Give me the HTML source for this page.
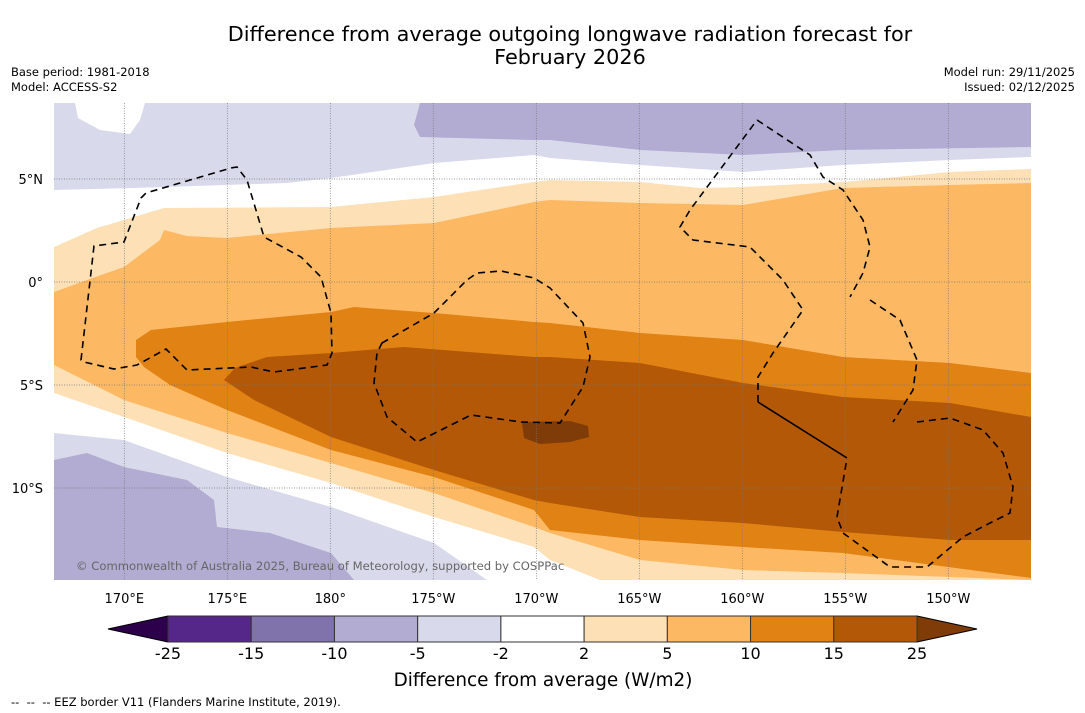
<!DOCTYPE html>
<html><head><meta charset="utf-8"><style>
body{margin:0;background:#fff;width:1085px;height:713px;overflow:hidden;font-family:"DejaVu Sans","Liberation Sans",sans-serif}
svg{position:absolute;left:0;top:0}
</style></head><body>
<svg id="s" width="1085" height="713" viewBox="0 0 1085 713">
<text x="570" y="41" font-size="20.8" text-anchor="middle">Difference from average outgoing longwave radiation forecast for</text>
<text x="570" y="64" font-size="20.8" text-anchor="middle">February 2026</text>
<text x="11" y="76" font-size="11.5">Base period: 1981-2018</text>
<text x="11" y="91" font-size="11.5">Model: ACCESS-S2</text>
<text x="1075" y="76" font-size="11.5" text-anchor="end">Model run: 29/11/2025</text>
<text x="1075" y="91" font-size="11.5" text-anchor="end">Issued: 02/12/2025</text>
<defs><clipPath id="mc"><rect x="54" y="103" width="977" height="477"/></clipPath></defs>
<g clip-path="url(#mc)">
<rect x="54" y="103" width="977" height="477" fill="#ffffff"/>
<path fill="#d8daeb" d="M54,103 L1031,103 L1031,157 L950,160 L843,165 L743,172 L640,165 L550,158 L534,155 L434,163 L331,178 L287,183 L134,188 L54,190 Z"/>
<path fill="#ffffff" d="M75,103 L145,103 L140,120 L130,134 L100,130 L78,118 Z"/>
<path fill="#b2abd2" d="M420,103 L1031,103 L1031,147 L843,150 L743,155 L640,150 L550,140 L534,140 L420,137 L414,125 Z"/>
<path fill="#d8daeb" d="M54,433 L124,440 L227,477 L331,507 L434,543 L487,580 L54,580 Z"/>
<path fill="#b2abd2" d="M54,460 L87,453 L124,467 L187,480 L214,500 L217,527 L270,533 L331,553 L354,580 L54,580 Z"/>
<path fill="#fee0b6" d="M54,247 L97,228 L164,208 L331,207 L434,197 L534,182 L550,180 L640,182 L700,188 L743,187 L843,182 L950,172 L1031,169 L1031,580 L600,580 L550,560 L534,547 L434,517 L331,483 L227,453 L124,417 L54,393 Z"/>
<path fill="#fdb863" d="M54,292 L87,280 L124,267 L160,240 L164,230 L187,236 L227,238 L331,228 L434,223 L534,202 L550,200 L640,203 L743,205 L843,188 L950,185 L1031,183 L1031,580 L843,573 L743,570 L640,560 L550,533 L534,527 L434,493 L331,463 L227,433 L124,400 L54,365 Z"/>
<path fill="#e08214" d="M136,357 L136,340 L151,330 L227,322 L331,312 L354,307 L434,313 L534,322 L550,323 L640,333 L743,340 L843,357 L950,363 L1031,373 L1031,578 L843,553 L743,547 L640,540 L550,530 L534,510 L434,477 L331,450 L227,410 L170,385 L144,367 Z"/>
<path fill="#b35806" d="M224,380 L235,368 L267,357 L331,353 L404,347 L534,357 L550,357 L640,363 L743,383 L843,397 L950,403 L1031,417 L1031,540 L950,540 L843,532 L743,523 L640,517 L550,503 L534,500 L434,470 L331,437 L254,400 Z"/>
<path fill="#7f3b08" d="M522,422 L570,421 L588,426 L589,437 L570,442 L540,444 L524,438 Z"/>
<g stroke="#777" stroke-width="0.7" stroke-dasharray="1,1.5" fill="none">
<line x1="124.3" y1="103" x2="124.3" y2="580"/><line x1="227.3" y1="103" x2="227.3" y2="580"/><line x1="330.3" y1="103" x2="330.3" y2="580"/><line x1="433.3" y1="103" x2="433.3" y2="580"/><line x1="536.3" y1="103" x2="536.3" y2="580"/><line x1="639.3" y1="103" x2="639.3" y2="580"/><line x1="742.3" y1="103" x2="742.3" y2="580"/><line x1="845.3" y1="103" x2="845.3" y2="580"/><line x1="948.3" y1="103" x2="948.3" y2="580"/>
<line x1="54" y1="179" x2="1031" y2="179"/><line x1="54" y1="282" x2="1031" y2="282"/><line x1="54" y1="385" x2="1031" y2="385"/><line x1="54" y1="488" x2="1031" y2="488"/>
</g>
<g stroke="#000" stroke-width="1.6" stroke-dasharray="7,5" fill="none">
<path d="M81,360 L94,246 L124,242 L141,198 L146,193 L231,168 L237,167 L247,180 L264,237 L301,257 L321,277 L331,313 L332,353 L327,365 L274,372 L251,367 L187,370 L166,349 L137,365 L114,369 L84,362 Z"/>
<path d="M382,343 L434,313 L467,280 L477,273 L501,271 L534,278 L550,288 L583,323 L590,357 L583,387 L560,423 L521,422 L471,415 L417,442 L387,417 L374,383 L377,353 Z"/>
<path d="M757,120 L810,155 L823,177 L843,190 L863,220 L870,247 L863,273 L850,297 M870,300 L900,320 L917,360 L913,390 L893,422 M917,422 L950,418 L983,430 L1003,453 L1013,487 L1010,513 L990,523 L963,537 L927,567 L890,567 L843,533 L837,517 L847,458 M758,402 L758,377 L773,353 L803,310 L783,280 L750,247 L693,240 L680,227 L690,210 L757,120"/>
<path stroke-dasharray="none" d="M758,402 L847,458"/>
</g>
<text x="76" y="570" font-size="11.6" fill="#666">© Commonwealth of Australia 2025, Bureau of Meteorology, supported by COSPPac</text>
</g>
<g font-size="13">
<text x="43" y="184" text-anchor="end">5°N</text><text x="43" y="287" text-anchor="end">0°</text><text x="43" y="390" text-anchor="end">5°S</text><text x="43" y="493" text-anchor="end">10°S</text>
</g>
<g id="lonlabels" font-size="13" text-anchor="middle"></g>
<g id="cbar"></g>
<text x="543" y="686" font-size="18.4" text-anchor="middle">Difference from average (W/m2)</text>
<text x="11" y="706" font-size="11.5">-- &#160;-- &#160;-- EEZ border V11 (Flanders Marine Institute, 2019).</text>
</svg>
<script>
const lonLabels=["170°E","175°E","180°","175°W","170°W","165°W","160°W","155°W","150°W"];
const levels=["-25","-15","-10","-5","-2","2","5","10","15","25"];
const bandColors=["#542788","#8073ac","#b2abd2","#d8daeb","#ffffff","#fee0b6","#fdb863","#e08214","#b35806"];
const extColors=["#2d004b","#7f3b08"];
const NS="http://www.w3.org/2000/svg";
function mk(t,a,p){const e=document.createElementNS(NS,t);for(const k in a)e.setAttribute(k,a[k]);p.appendChild(e);return e;}
const lg=document.getElementById('lonlabels');
lonLabels.forEach((l,i)=>{const t=mk('text',{x:124.3+i*103,y:603},lg);t.textContent=l;

});
const cb=document.getElementById('cbar');
const x0=168,x1=917,y0=616,y1=642,w=(x1-x0)/bandColors.length;
const l=mk('polygon',{points:`108,629 ${x0},${y0} ${x0},${y1}`,fill:extColors[0],stroke:'#000','stroke-width':1},cb);


const r=mk('polygon',{points:`977,629 ${x1},${y0} ${x1},${y1}`,fill:extColors[1],stroke:'#000','stroke-width':1},cb);


bandColors.forEach((c,i)=>{const b=mk('rect',{x:x0+i*w,y:y0,width:w,height:y1-y0,fill:c,stroke:'#333','stroke-width':1},cb);

});
levels.forEach((v,i)=>{const t=mk('text',{x:x0+i*w,y:659,'font-size':16,'text-anchor':'middle'},cb);t.textContent=v;

});
</script>
</body></html>
